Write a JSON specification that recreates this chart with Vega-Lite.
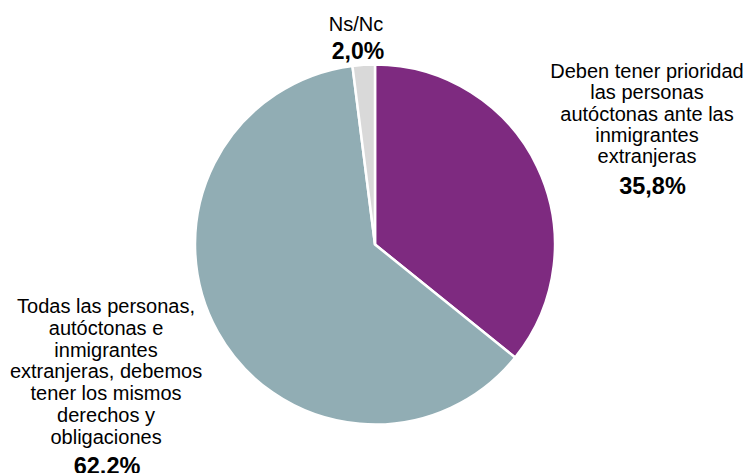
{
  "$schema": "https://vega.github.io/schema/vega-lite/v6.json",
  "autosize": "none",
  "width": 744,
  "height": 457,
  "padding": {"left": 3, "top": 16, "right": 0, "bottom": 0},
  "background": "white",
  "config": {"view": {"stroke": null}, "font": "Liberation Sans"},
  "data": {
    "values": [
      {"cat": "prioridad", "nombre": "Deben tener prioridad\nlas personas\nautóctonas ante las\ninmigrantes\nextranjeras", "pct": "35,8%", "valor": 35.8, "orden": 1},
      {"cat": "iguales", "nombre": "Todas las personas,\nautóctonas e\ninmigrantes\nextranjeras, debemos\ntener los mismos\nderechos y\nobligaciones", "pct": "62,2%", "valor": 62.2, "orden": 2},
      {"cat": "nsnc", "nombre": "Ns/Nc", "pct": "2,0%", "valor": 2.0, "orden": 3}
    ]
  },
  "encoding": {
    "theta": {"field": "valor", "type": "quantitative", "stack": true},
    "order": {"field": "orden", "type": "quantitative"}
  },
  "layer": [
    {
      "mark": {"type": "arc", "outerRadius": 180, "stroke": "white", "strokeWidth": 2.5},
      "encoding": {
        "color": {
          "field": "cat", "type": "nominal",
          "scale": {"domain": ["prioridad", "iguales", "nsnc"], "range": ["#7E2A80", "#91ADB4", "#D9D9D9"]},
          "legend": null
        }
      }
    },
    {
      "mark": {"type": "text", "radius": 301.5, "dy": -36.5, "baseline": "alphabetic", "align": "center", "fontSize": 20, "lineHeight": 21.3, "lineBreak": "\n", "color": "black"},
      "encoding": {"text": {"condition": {"test": "datum.cat === 'prioridad'", "field": "nombre"}, "value": ""}}
    },
    {
      "mark": {"type": "text", "radius": 301.5, "dx": 5.5, "dy": 79.5, "baseline": "alphabetic", "align": "center", "fontSize": 23.5, "fontWeight": "bold", "color": "black"},
      "encoding": {"text": {"condition": {"test": "datum.cat === 'prioridad'", "field": "pct"}, "value": ""}}
    },
    {
      "mark": {"type": "text", "radius": 308, "dy": -81.6, "baseline": "alphabetic", "align": "center", "fontSize": 20, "lineHeight": 21.8, "lineBreak": "\n", "color": "black"},
      "encoding": {"text": {"condition": {"test": "datum.cat === 'iguales'", "field": "nombre"}, "value": ""}}
    },
    {
      "mark": {"type": "text", "radius": 308, "dx": 1, "dy": 79.4, "baseline": "alphabetic", "align": "center", "fontSize": 23.5, "fontWeight": "bold", "color": "black"},
      "encoding": {"text": {"condition": {"test": "datum.cat === 'iguales'", "field": "pct"}, "value": ""}}
    },
    {
      "mark": {"type": "text", "radius": 200, "dx": -6.4, "dy": -14, "baseline": "alphabetic", "align": "center", "fontSize": 20, "color": "black"},
      "encoding": {"text": {"condition": {"test": "datum.cat === 'nsnc'", "field": "nombre"}, "value": ""}}
    },
    {
      "mark": {"type": "text", "radius": 200, "dx": -4.4, "dy": 14, "baseline": "alphabetic", "align": "center", "fontSize": 23, "fontWeight": "bold", "color": "black"},
      "encoding": {"text": {"condition": {"test": "datum.cat === 'nsnc'", "field": "pct"}, "value": ""}}
    }
  ]
}
